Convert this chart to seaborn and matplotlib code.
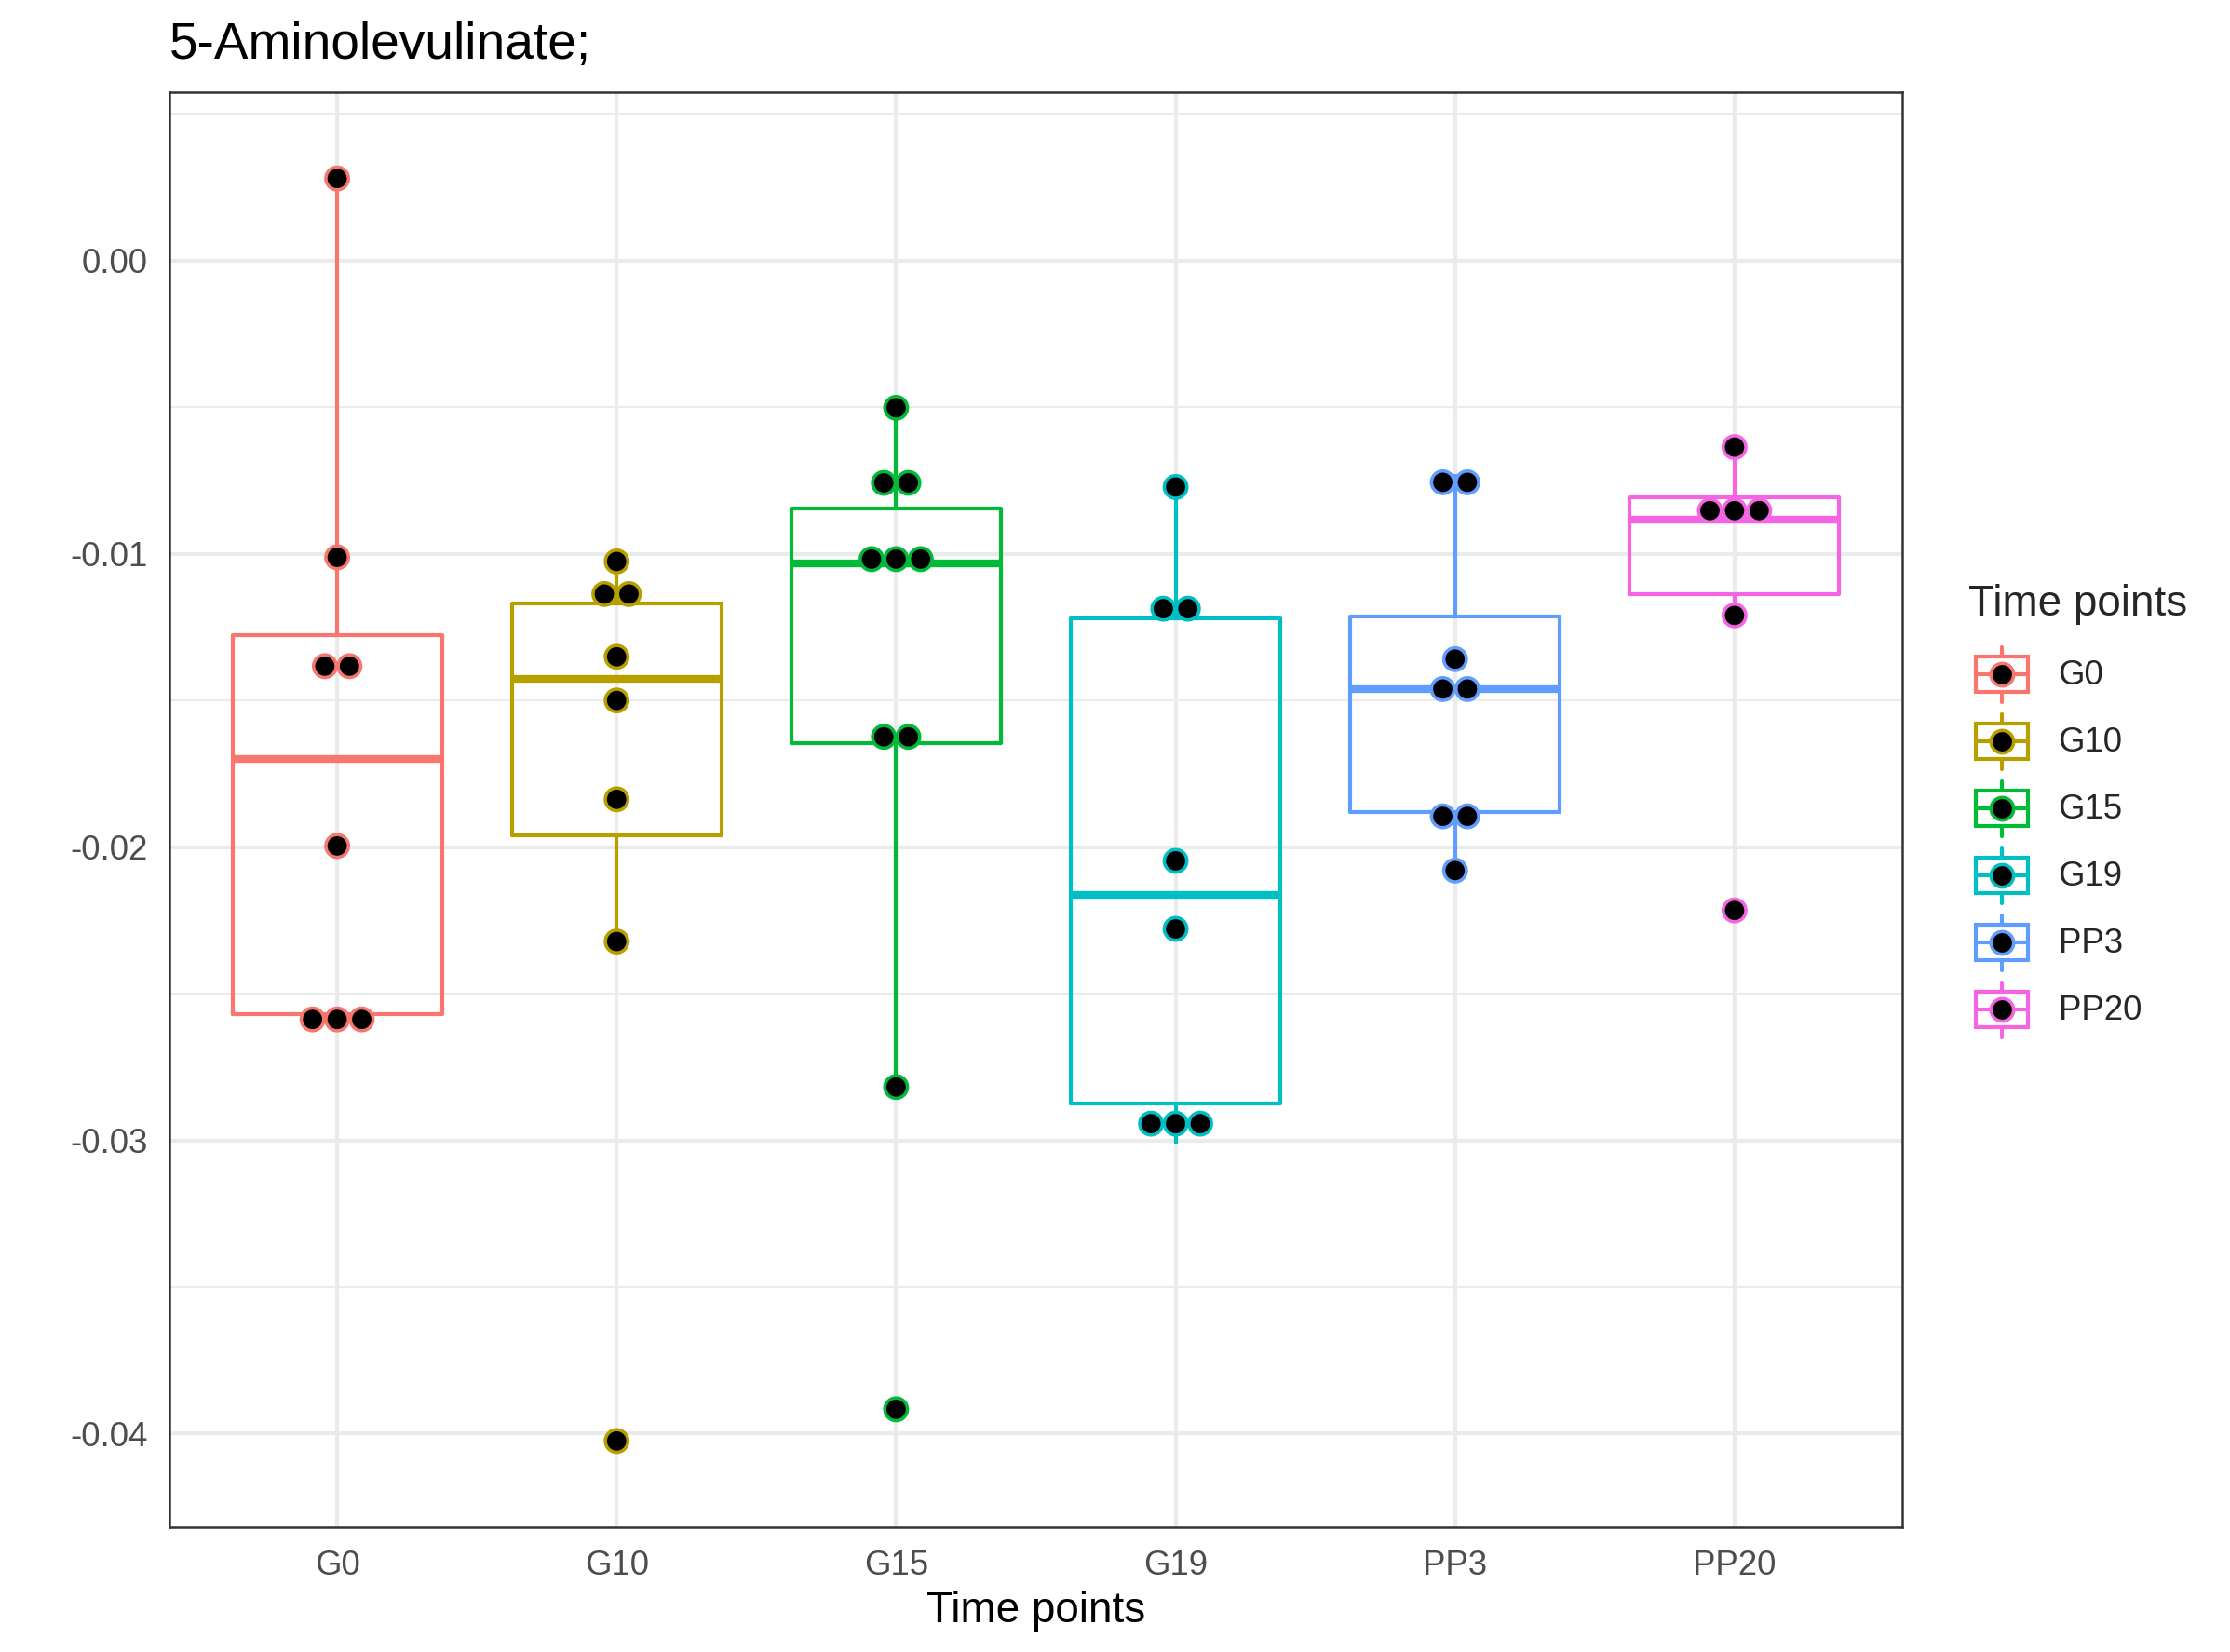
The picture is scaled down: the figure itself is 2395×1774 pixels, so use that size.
import numpy as np
import pandas as pd
import matplotlib
matplotlib.use("Agg")
import matplotlib.pyplot as plt
import seaborn as sns
from matplotlib.legend_handler import HandlerBase
from matplotlib.patches import Rectangle
from matplotlib.lines import Line2D
from matplotlib.ticker import MultipleLocator, FormatStrFormatter

# ---------------- data ----------------
categories = ["G0", "G10", "G15", "G19", "PP3", "PP20"]
g0 = [0.0028, -0.01012, -0.01364, -0.01402, -0.01996, -0.02565, -0.0258, -0.0261]
g10 = [-0.01026, -0.01073, -0.01201, -0.01351, -0.0150, -0.01837, -0.02322, -0.04025]
g15 = [-0.00502, -0.00721, -0.00795, -0.00998, -0.0103, -0.01038, -0.01578, -0.0167,
       -0.02818, -0.03917]
g19 = [-0.00772, -0.01119, -0.01255, -0.02047, -0.02279, -0.02873, -0.02877, -0.03013]
pp3 = [-0.00729, -0.00783, -0.01359, -0.01412, -0.0151, -0.01867, -0.01923, -0.0208]
pp20 = [-0.00636, -0.00791, -0.00854, -0.00914, -0.0121, -0.02216]
values = [g0, g10, g15, g19, pp3, pp20]

colors = ["#F8766D", "#B79F00", "#00BA38", "#00BFC4", "#619CFF", "#F564E3"]

title = "5-Aminolevulinate;"
x_label = "Time points"
legend_title = "Time points"

# ---------------- style ----------------
sns.set_style("white")
plt.rcParams["font.family"] = ["Liberation Sans", "DejaVu Sans"]
plt.rcParams["axes.unicode_minus"] = False

W, H, DPI = 2395, 1774, 300
fig = plt.figure(figsize=(W / DPI, H / DPI), dpi=DPI)
ax = fig.add_axes([182 / W, 1 - 1640 / H, (2043 - 182) / W, (1640 - 99) / H])

df = pd.DataFrame({
    "Time points": np.repeat(categories, [len(v) for v in values]),
    "value": np.concatenate(values),
})

BOX_LW = 1.0
MED_LW = 2.0
sns.boxplot(data=df, x="Time points", y="value", hue="Time points",
            order=categories, hue_order=categories, palette=colors,
            fill=False, width=0.75, whis=1.5, showfliers=False, showcaps=False,
            linewidth=BOX_LW, medianprops={"linewidth": MED_LW},
            legend=False, ax=ax)

# dot-density binning (like geom_dotplot, binaxis = y, stackdir = center)
bw = (df["value"].max() - df["value"].min()) / 30
DOT_STEP = 0.088
xs, ys, ecs = [], [], []
for i, vals in enumerate(values):
    v = np.sort(np.asarray(vals))
    bins, binend = [], -np.inf
    for val in v:
        if val >= binend:
            bins.append([val])
            binend = val + bw
        else:
            bins[-1].append(val)
    for b in bins:
        c = (min(b) + max(b)) / 2
        k = len(b)
        for j in range(k):
            xs.append(i + (j - (k - 1) / 2) * DOT_STEP)
            ys.append(c)
            ecs.append(colors[i])

DOT_S = 34
DOT_EW = 0.85
sns.scatterplot(x=xs, y=ys, color="black", edgecolor=ecs, s=DOT_S,
                linewidth=DOT_EW, legend=False, ax=ax, zorder=3)

# limits like ggplot (5% expansion, discrete 0.6)
lo = min(ys) - bw / 2
hi = max(ys) + bw / 2
span = hi - lo
ax.set_ylim(lo - 0.05 * span, hi + 0.05 * span)
ax.set_xlim(-0.6, len(categories) - 0.4)

# grid / ticks
ax.yaxis.set_major_locator(MultipleLocator(0.01))
ax.yaxis.set_minor_locator(MultipleLocator(0.005))
ax.yaxis.set_major_formatter(FormatStrFormatter("%.2f"))
ax.set_axisbelow(True)
ax.grid(True, which="major", axis="both", color="#EBEBEB", linewidth=1.0)
ax.grid(True, which="minor", axis="y", color="#EBEBEB", linewidth=0.5)
ax.tick_params(which="minor", length=0)
ax.tick_params(which="major", length=2.75, width=0.9, color="#333333",
               labelsize=8.8, labelcolor="#4D4D4D", pad=2.9)
for s in ax.spines.values():
    s.set_visible(True)
    s.set_color("#333333")
    s.set_linewidth(0.6)

ax.set_xlabel(x_label, fontsize=11, color="black", labelpad=2.3)
ax.set_ylabel("")
ax.set_title(title, loc="left", fontsize=13.2, color="black", pad=8.6)


# ---------------- legend ----------------
class BoxKeyHandler(HandlerBase):
    def legend_artist(self, legend, orig_handle, fontsize, handlebox):
        x0, y0 = -handlebox.xdescent, -handlebox.ydescent
        w, h = handlebox.width, handlebox.height
        col = orig_handle.get_color()
        t = handlebox.get_transform()
        cx, cy = x0 + w / 2, y0 + h / 2
        arts = [
            Line2D([cx, cx], [y0 + 0.09 * h, y0 + 0.91 * h], color=col, lw=BOX_LW, transform=t),
            Rectangle((x0 + 0.105 * w, y0 + 0.235 * h), 0.79 * w, 0.53 * h,
                      facecolor="white", edgecolor=col, lw=BOX_LW, transform=t),
            Line2D([x0 + 0.105 * w, x0 + 0.895 * w], [cy, cy], color=col, lw=BOX_LW, transform=t),
            Line2D([cx], [cy], marker="o", markersize=np.sqrt(DOT_S), markerfacecolor="black",
                   markeredgecolor=col, markeredgewidth=DOT_EW, linestyle="none", transform=t),
        ]
        for a in arts:
            handlebox.add_artist(a)
        return arts[0]


handles = [Line2D([], [], color=c) for c in colors]
leg = fig.legend(handles, categories, handler_map={Line2D: BoxKeyHandler()},
                 loc="upper left", bbox_to_anchor=(2114 / W, 1 - 627 / H),
                 frameon=False, fontsize=8.8, title=legend_title, title_fontsize=11,
                 alignment="left", handlelength=1.964, handleheight=2.644,
                 handletextpad=0.67, labelspacing=0, borderpad=0, borderaxespad=0)
leg._legend_box.sep = 4.1

fig.savefig("out.png", dpi=DPI)
